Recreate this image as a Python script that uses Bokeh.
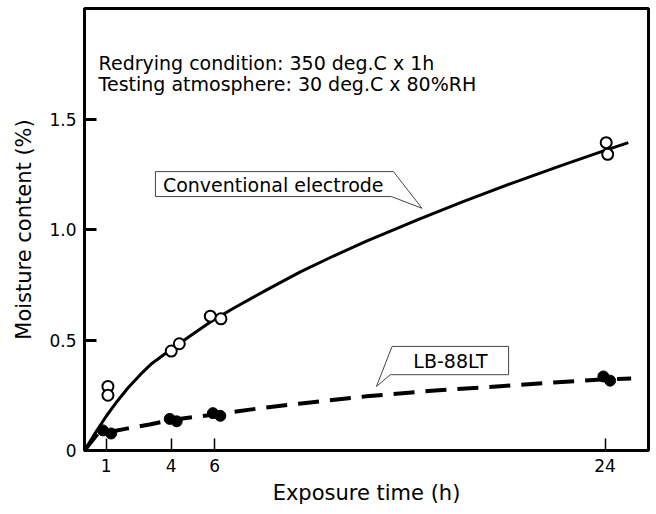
from bokeh.plotting import figure
from bokeh.models import Range1d, FixedTicker, Label, PrintfTickFormatter
from bokeh.embed import file_html
from bokeh.resources import INLINE

# ---- data ----
conv_x = [1.08, 1.08, 4.0, 4.37, 5.8, 6.29, 24.05, 24.12]
conv_y = [0.29, 0.25, 0.45, 0.483, 0.608, 0.596, 1.393, 1.34]
lb_x = [0.85, 1.23, 3.93, 4.25, 5.92, 6.26, 23.92, 24.23]
lb_y = [0.091, 0.077, 0.143, 0.132, 0.169, 0.157, 0.335, 0.316]

conv_curve_x = [0, 0.5, 1.0, 1.5, 2.0, 2.57, 3.06, 3.95, 4.9, 5.82, 6.89,
                8.42, 9.95, 11.48, 13.0, 15.43, 17.42, 19.72, 22.0, 24.0, 25.07]
conv_curve_y = [0, 0.08, 0.155, 0.222, 0.283, 0.343, 0.39, 0.455, 0.52, 0.583, 0.645,
                0.728, 0.808, 0.88, 0.947, 1.047, 1.125, 1.21, 1.29, 1.358, 1.393]

lb_curve_x = [0, 0.6, 1.2, 2, 3, 4, 5, 6, 8, 10, 13, 16, 19, 22, 24, 25.2]
lb_curve_y = [0, 0.075, 0.085, 0.1, 0.118, 0.138, 0.151, 0.163, 0.19, 0.213,
              0.245, 0.27, 0.29, 0.31, 0.322, 0.326]

x_ticks = [1, 4, 6, 24]
y_ticks = [0, 0.5, 1.0, 1.5]

FONT = "DejaVu Sans"

p = figure(width=653, height=512, output_backend="svg", toolbar_location=None,
           x_range=Range1d(0, 26), y_range=Range1d(0, 2.0),
           min_border_left=84, min_border_right=5, min_border_top=8,
           min_border_bottom=62)

p.xgrid.visible = False
p.ygrid.visible = False
p.background_fill_color = "white"
p.border_fill_color = "white"
p.outline_line_color = "black"
p.outline_line_width = 3

# axes
p.xaxis.ticker = FixedTicker(ticks=x_ticks)
p.yaxis.ticker = FixedTicker(ticks=y_ticks)
p.yaxis.formatter = PrintfTickFormatter(format="%.1f")
p.yaxis.major_label_overrides = {0: "0"}
for ax in (p.xaxis, p.yaxis):
    ax.axis_line_width = 3
    ax.axis_line_color = "black"
    ax.major_tick_in = 12
    ax.major_tick_out = 0
    ax.minor_tick_line_color = None
    ax.major_tick_line_color = "black"
    ax.major_label_text_font = FONT
    ax.major_label_text_font_size = "17px"
    ax.major_label_text_color = "black"
    ax.axis_label_text_font = FONT
    ax.axis_label_text_font_size = "21px"
    ax.axis_label_text_font_style = "normal"
    ax.axis_label_text_color = "black"
p.xaxis.major_tick_line_width = 1.5
p.yaxis.major_tick_line_width = 3
p.xaxis.major_label_standoff = 8
p.yaxis.major_label_standoff = 8
p.xaxis.axis_label = "Exposure time (h)"
p.yaxis.axis_label = "Moisture content (%)"
p.xaxis.axis_label_standoff = 6
p.yaxis.axis_label_standoff = 10

# curves
p.line(conv_curve_x, conv_curve_y, line_color="black", line_width=3)
p.line(lb_curve_x, lb_curve_y, line_color="black", line_width=4, line_dash="21 11")

# points
p.scatter(conv_x, conv_y, marker="circle", size=11, fill_color="white",
          line_color="black", line_width=2)
p.scatter(lb_x, lb_y, marker="circle", size=11, fill_color="black",
          line_color="black", line_width=1)

# callouts
p.patch([3.27, 14.24, 15.56, 14.15, 3.27], [1.262, 1.262, 1.096, 1.149, 1.149],
        fill_color="white", line_color="#444444", line_width=1)
p.patch([14.18, 19.55, 19.55, 14.10, 13.46], [0.471, 0.471, 0.343, 0.343, 0.290],
        fill_color="white", line_color="#444444", line_width=1)
p.add_layout(Label(x=8.7, y=1.203, text="Conventional electrode", text_align="center",
                   text_baseline="middle", text_font=FONT, text_font_size="19px",
                   text_color="black"))
p.add_layout(Label(x=16.87, y=0.405, text="LB-88LT", text_align="center",
                   text_baseline="middle", text_font=FONT, text_font_size="19px",
                   text_color="black"))

# condition notes
p.add_layout(Label(x=0.65, y=1.753, text="Redrying condition: 350 deg.C x 1h",
                   text_font=FONT, text_font_size="19px", text_color="black",
                   text_baseline="alphabetic"))
p.add_layout(Label(x=0.65, y=1.658, text="Testing atmosphere: 30 deg.C x 80%RH",
                   text_font=FONT, text_font_size="19px", text_color="black",
                   text_baseline="alphabetic"))

open("out.html", "w").write(file_html(p, INLINE))
